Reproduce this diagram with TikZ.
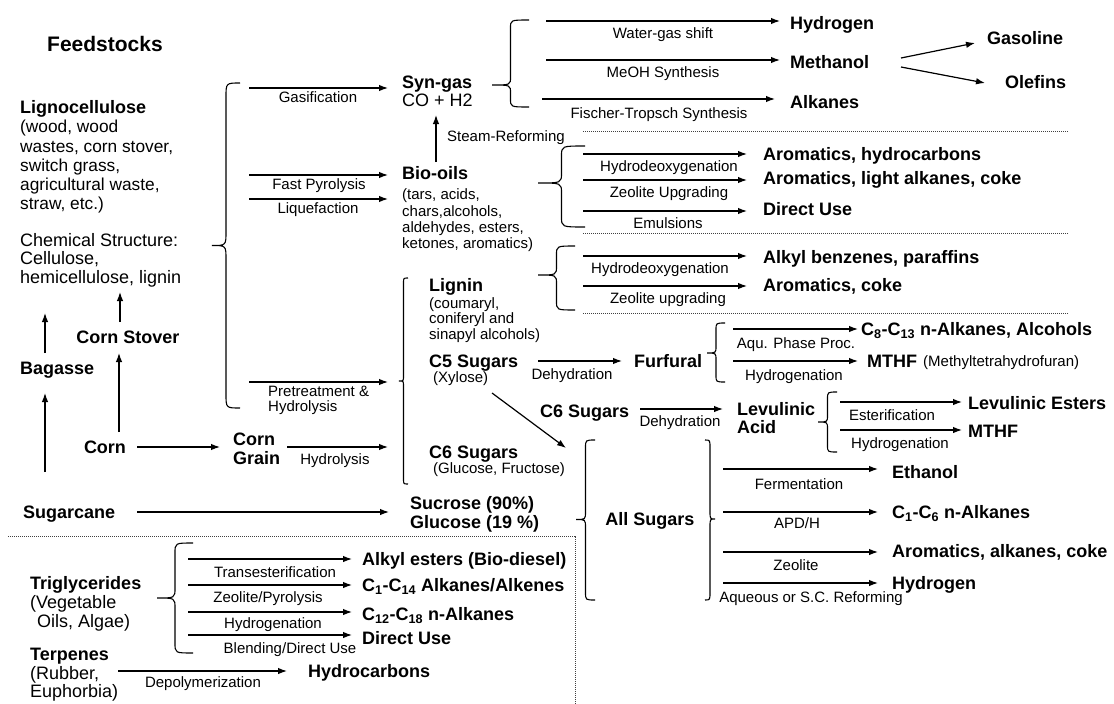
\documentclass[tikz,border=0pt]{standalone}
\usepackage{fontspec}
\setmainfont{Liberation Sans}
\usetikzlibrary{arrows.meta}
\newcommand{\bracepath}[6]{%
  \draw[brc] (#1,#2) .. controls ({(#1+#4)/2},#2) .. ({(#1+#4)/2},{#2+#6})
    -- ({(#1+#4)/2},{#5-#6}) .. controls ({(#1+#4)/2},#5) .. (#4,#5)
    .. controls ({(#1+#4)/2},#5) .. ({(#1+#4)/2},{#5+#6})
    -- ({(#1+#4)/2},{#3-#6}) .. controls ({(#1+#4)/2},#3) .. (#1,#3);}
\newcommand{\outarrow}[3]{\draw[arr,shorten >=#3] (#1) -- (#1 -| #2.west);}
\tikzset{
  bt/.style={font=\bfseries\fontsize{18}{20}\selectfont, anchor=west, inner sep=0pt, text height=13pt, text depth=0pt},
  rt/.style={font=\fontsize{18}{20}\selectfont, anchor=west, inner sep=0pt, text height=13pt, text depth=0pt},
  rts/.style={font=\fontsize{17.3}{20}\selectfont, anchor=west, inner sep=0pt, text height=12.5pt, text depth=0pt},
  st/.style={font=\fontsize{15}{17}\selectfont, anchor=west, inner sep=0pt, text height=10.8pt, text depth=0pt},
  lbl/.style={font=\fontsize{15}{17}\selectfont, anchor=center, inner sep=0pt, text height=10.8pt, text depth=0pt},
  arr/.style={line width=1.2pt, -{Latex[length=9pt,width=6.5pt]}},
  brc/.style={line width=1.1pt},
  sep/.style={line width=0.7pt, dash pattern=on 1.2pt off 0.8pt, black!75},
}
\begin{document}
\begin{tikzpicture}[x=1pt,y=-1pt]
\useasboundingbox (0,0) rectangle (1114,704);

% ---------- Feedstocks column ----------
\node[font=\bfseries\fontsize{21}{24}\selectfont, inner sep=0pt, text height=15pt, text depth=0pt] (feed) at (105,44) {Feedstocks};
\node[bt] (ligno) at (20,107) {Lignocellulose};
\node[rts] (lw1) at (20,126) {(wood, wood};
\node[rts] (lw2) at (20,146) {wastes, corn stover,};
\node[rts] (lw3) at (20,165) {switch grass,};
\node[rts] (lw4) at (20,184) {agricultural waste,};
\node[rts] (lw5) at (20,203) {straw, etc.)};
\node[rt] (cs1) at (20,240) {Chemical Structure:};
\node[rt] (cs2) at (20,258) {Cellulose,};
\node[rt] (cs3) at (20,277) {hemicellulose, lignin};

\node[bt, anchor=center] (cstov) at (128,337) {Corn Stover};
\node[bt] (bag) at (20,368) {Bagasse};
\node[bt, anchor=center] (corn) at (105,447) {Corn};
\node[bt] (cg1) at (233,439) {Corn};
\node[bt] (cg2) at (233,458) {Grain};
\node[bt] (sugc) at (23,512) {Sugarcane};

\coordinate (v1s) at (120,322); \coordinate (v1e) at (120,292);
\coordinate (v2s) at (119,432); \coordinate (v2e) at (119,353);
\coordinate (v3s) at (45,353);  \coordinate (v3e) at (45,313);
\coordinate (v4s) at (45,472);  \coordinate (v4e) at (45,393);
\draw[arr] (v1s) -- (v1e);
\draw[arr] (v2s) -- (v2e);
\draw[arr] (v3s) -- (v3e);
\draw[arr] (v4s) -- (v4e);

\coordinate (h1s) at (137,447);
\outarrow{h1s}{cg1}{13pt}
\coordinate (h2s) at (287,447); \coordinate (h2e) at (388,447);
\draw[arr] (h2s) -- (h2e);
\node[lbl] (lhyd) at (335,459) {Hydrolysis};

% ---------- Lignocellulose brace ----------
\bracepath{240}{83}{408}{212}{245.5}{14}
\node[bt] (syn) at (402,82) {Syn-gas};
\node[rt] (co) at (402,100) {CO + H2};
\node[bt] (bio) at (402,173) {Bio-oils};
\node[st] (bo1) at (402,194) {(tars, acids,};
\node[st] (bo2) at (402,211) {chars,alcohols,};
\node[st] (bo3) at (402,227) {aldehydes, esters,};
\node[st] (bo4) at (402,243) {ketones, aromatics)};

\coordinate (g1) at (249,88);  \outarrow{g1}{syn}{14pt}
\coordinate (fp) at (249,175); \outarrow{fp}{bio}{14pt}
\coordinate (lq) at (249,199); \outarrow{lq}{bo1}{14pt}
\coordinate (ptr) at (249,382); \coordinate (ptre) at (388,382);
\draw[arr] (ptr) -- (ptre);
\node[lbl] (lgas) at (318,97) {Gasification};
\node[lbl] (lfp) at (319,184) {Fast Pyrolysis};
\node[lbl] (lliq) at (318,208) {Liquefaction};
\node[st] (lpt1) at (268,391) {Pretreatment \&};
\node[st] (lpt2) at (268,406) {Hydrolysis};

\coordinate (sr1) at (436,162); \coordinate (sr2) at (436,115);
\draw[arr] (sr1) -- (sr2);
\node[st] (lsr) at (447,136) {Steam-Reforming};

% ---------- Syn-gas branch ----------
\bracepath{529}{20}{107}{492}{85}{8}
\node[bt] (h2a) at (790,23) {Hydrogen};
\node[bt] (meth) at (790,62) {Methanol};
\node[bt] (alk) at (790,102) {Alkanes};
\coordinate (w1) at (546,21); \outarrow{w1}{h2a}{10pt}
\coordinate (w2) at (546,60); \outarrow{w2}{meth}{10pt}
\coordinate (w3) at (542,99); \outarrow{w3}{alk}{15pt}
\node[lbl] (lwgs) at (663,33) {Water-gas shift};
\node[lbl] (lmeoh) at (663,72) {MeOH Synthesis};
\node[lbl] (lft) at (659,113) {Fischer-Tropsch Synthesis};
\node[bt] (gas) at (987,38) {Gasoline};
\node[bt] (ole) at (1005,82) {Olefins};
\coordinate (m1) at (901,58); \coordinate (m1e) at (975,43);
\coordinate (m2) at (901,67); \coordinate (m2e) at (985,83);
\draw[arr] (m1) -- (m1e);
\draw[arr] (m2) -- (m2e);

\draw[sep] (583,131) -- (1068,131);

% ---------- Bio-oils branch ----------
\bracepath{585}{146}{227}{538}{183}{10}
\node[bt] (ar1) at (763,154) {Aromatics, hydrocarbons};
\node[bt] (ar2) at (763,178) {Aromatics, light alkanes, coke};
\node[bt] (du1) at (763,209) {Direct Use};
\coordinate (b1) at (583,154); \outarrow{b1}{ar1}{16pt}
\coordinate (b2) at (583,180); \outarrow{b2}{ar2}{16pt}
\coordinate (b3) at (583,211); \outarrow{b3}{du1}{16pt}
\node[lbl] (lhdo1) at (669,166) {Hydrodeoxygenation};
\node[lbl] (lzu) at (669,192) {Zeolite Upgrading};
\node[lbl] (lem) at (668,223) {Emulsions};

\draw[sep] (583,233) -- (1068,233);

% ---------- Lignin branch ----------
\bracepath{575}{246}{310}{538}{275}{9}
\node[bt] (abz) at (763,257) {Alkyl benzenes, paraffins};
\node[bt] (arc) at (763,285) {Aromatics, coke};
\coordinate (l1) at (583,256); \outarrow{l1}{abz}{16pt}
\coordinate (l2) at (583,286); \outarrow{l2}{arc}{16pt}
\node[lbl] (lhdo2) at (660,268) {Hydrodeoxygenation};
\node[lbl] (lzu2) at (668,298) {Zeolite upgrading};

\draw[sep] (583,313) -- (1068,313);

% ---------- Pretreatment products ----------
\bracepath{408}{278}{484}{399}{381}{5}
\node[bt] (lig) at (429,285) {Lignin};
\node[st] (lg1) at (429,303) {(coumaryl,};
\node[st] (lg2) at (429,318) {coniferyl and};
\node[st] (lg3) at (429,334) {sinapyl alcohols)};
\node[bt] (c5) at (429,361) {C5 Sugars};
\node[st] (xyl) at (433,377) {(Xylose)};
\node[bt] (c6) at (429,452) {C6 Sugars};
\node[st] (glu) at (433,468) {(Glucose, Fructose)};

\node[bt] (fur) at (634,361) {Furfural};
\coordinate (c5a) at (538,361); \outarrow{c5a}{fur}{12pt}
\node[lbl] (ldh1) at (572,374) {Dehydration};
\coordinate (dg1) at (492,393); \coordinate (dg2) at (566,448);
\draw[arr] (dg1) -- (dg2);

\node[bt] (c6m) at (540,411) {C6 Sugars};
\node[bt] (lev1) at (737,409) {Levulinic};
\node[bt] (lev2) at (737,427) {Acid};
\coordinate (c6a) at (640,409); \outarrow{c6a}{lev1}{14pt}
\node[lbl] (ldh2) at (680,421) {Dehydration};

% ---------- Furfural branch ----------
\bracepath{725}{323}{382}{707}{353}{7}
\node[bt] (c813) at (861,329) {C\textsubscript{8}-C\textsubscript{13} n-Alkanes, Alcohols};
\node[bt] (mthf1) at (867,361) {MTHF};
\node[st] (mthfn) at (923,361) {(Methyltetrahydrofuran)};
\coordinate (f1) at (733,329); \outarrow{f1}{c813}{3pt}
\coordinate (f2) at (733,361); \outarrow{f2}{mthf1}{9pt}
\node[lbl] (laq) at (796,343) {Aqu. Phase Proc.};
\node[lbl] (lhg1) at (794,375) {Hydrogenation};

% ---------- Levulinic branch ----------
\bracepath{837}{392}{452}{818}{422}{7}
\node[bt] (les) at (968,403) {Levulinic Esters};
\node[bt] (mthf2) at (968,431) {MTHF};
\coordinate (e1) at (840,402); \outarrow{e1}{les}{6pt}
\coordinate (e2) at (840,430); \outarrow{e2}{mthf2}{6pt}
\node[lbl] (lest) at (892,415) {Esterification};
\node[lbl] (lhg2) at (900,443) {Hydrogenation};

% ---------- All sugars ----------
\bracepath{595}{440}{600}{576}{519.5}{8}
\bracepath{705}{440}{600}{715}{519}{8}
\node[bt, anchor=center] (alls) at (650,519) {All Sugars};
\node[bt] (eth) at (892,472) {Ethanol};
\node[bt] (c16) at (892,512) {C\textsubscript{1}-C\textsubscript{6} n-Alkanes};
\node[bt] (aak) at (892,551) {Aromatics, alkanes, coke};
\node[bt] (h2b) at (892,583) {Hydrogen};
\coordinate (a1) at (723,469); \outarrow{a1}{eth}{14pt}
\coordinate (a2) at (723,512); \outarrow{a2}{c16}{14pt}
\coordinate (a3) at (723,552); \outarrow{a3}{aak}{14pt}
\coordinate (a4) at (723,583); \outarrow{a4}{h2b}{14pt}
\node[lbl] (lfer) at (799,484) {Fermentation};
\node[lbl] (lapd) at (797,523) {APD/H};
\node[lbl] (lzeo) at (796,565) {Zeolite};
\node[lbl] (laqr) at (811,597) {Aqueous or S.C. Reforming};

% ---------- Sugarcane ----------
\node[bt] (suc) at (410,503) {Sucrose (90\%)};
\node[bt] (glc) at (410,522) {Glucose (19 \%)};
\coordinate (sc1) at (137,512); \outarrow{sc1}{suc}{21pt}

\draw[sep] (8,536) -- (575,536) -- (575,704);

% ---------- Triglycerides / Terpenes ----------
\node[bt] (tri) at (30,583) {Triglycerides};
\node[rt] (tv1) at (30,602) {(Vegetable};
\node[rt] (tv2) at (37,621) {Oils, Algae)};
\bracepath{193}{543}{653}{157}{598}{10}
\node[bt] (aes) at (362,559) {Alkyl esters (Bio-diesel)};
\node[bt] (c114) at (362,585) {C\textsubscript{1}-C\textsubscript{14} Alkanes/Alkenes};
\node[bt] (c1218) at (362,614) {C\textsubscript{12}-C\textsubscript{18} n-Alkanes};
\node[bt] (du2) at (362,638) {Direct Use};
\coordinate (t1) at (188,559); \outarrow{t1}{aes}{10pt}
\coordinate (t2) at (188,585); \outarrow{t2}{c114}{10pt}
\coordinate (t3) at (188,612); \outarrow{t3}{c1218}{10pt}
\coordinate (t4) at (188,635); \outarrow{t4}{du2}{10pt}
\node[lbl] (ltr) at (275,572) {Transesterification};
\node[lbl] (lzp) at (268,597) {Zeolite/Pyrolysis};
\node[lbl] (lhg3) at (273,623) {Hydrogenation};
\node[lbl] (lbd) at (290,648) {Blending/Direct Use};

\node[bt] (ter) at (30,654) {Terpenes};
\node[rt] (tr1) at (30,673) {(Rubber,};
\node[rt] (tr2) at (30,691) {Euphorbia)};
\node[bt] (hc) at (308,671) {Hydrocarbons};
\coordinate (tp) at (118,671); \outarrow{tp}{hc}{21pt}
\node[lbl] (ldp) at (203,682) {Depolymerization};
\end{tikzpicture}
\end{document}
